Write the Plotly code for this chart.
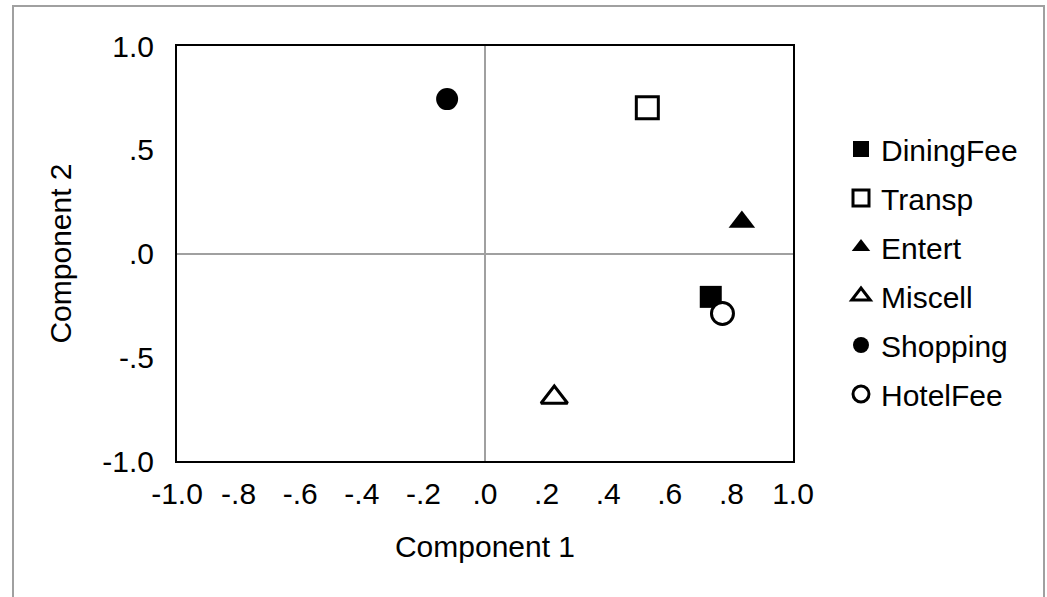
import plotly.graph_objects as go

variables = ["DiningFee", "Transp", "Entert", "Miscell", "Shopping", "HotelFee"]
component1 = [0.733, 0.527, 0.834, 0.225, -0.123, 0.771]
component2 = [-0.209, 0.702, 0.152, -0.694, 0.744, -0.289]
symbols = ["square", "square", "triangle-up", "triangle-up", "circle", "circle"]
fills = ["black", "white", "black", "white", "black", "white"]

x_tickvals = [-1.0, -0.8, -0.6, -0.4, -0.2, 0.0, 0.2, 0.4, 0.6, 0.8, 1.0]
x_ticktext = ["-1.0", "-.8", "-.6", "-.4", "-.2", ".0", ".2", ".4", ".6", ".8", "1.0"]
y_tickvals = [-1.0, -0.5, 0.0, 0.5, 1.0]
y_ticktext = ["-1.0", "-.5", ".0", ".5", "1.0"]

FONT = "Liberation Sans, Arial, sans-serif"
FS = 30

fig = go.Figure()
for i, name in enumerate(variables):
    is_tri = "triangle" in symbols[i]
    fig.add_trace(go.Scatter(
        x=[component1[i]], y=[component2[i]], mode="markers", name=name,
        legendgroup=name,
        marker=dict(symbol=symbols[i], size=23 if is_tri else 22,
                    color=fills[i], line=dict(color="black", width=3 if fills[i] == "white" else 0)),
    ))

W, H = 1047, 597
pl, pr, pt, pb = 177, 793, 46, 461
L, R, T, B = pl, W - pr, pt, H - pb
pw, ph = pr - pl, pb - pt

def px(xp):
    return (xp - pl) / pw

def py(yp):
    return (pb - yp) / ph

fig.update_layout(
    width=W, height=H,
    margin=dict(l=L, r=R, t=T, b=B),
    paper_bgcolor="white", plot_bgcolor="white",
    font=dict(family=FONT, size=FS, color="black"),
    showlegend=True,
    legend=dict(
        x=px(841), y=py(123), xanchor="left", yanchor="top",
        font=dict(family=FONT, size=FS, color="black"),
        traceorder="grouped", tracegroupgap=7, itemwidth=30,
        bgcolor="rgba(0,0,0,0)",
    ),
    xaxis=dict(
        range=[-1, 1], tickvals=x_tickvals, ticktext=x_ticktext,
        showgrid=False, zeroline=True, zerolinecolor="#a0a0a0", zerolinewidth=1.5,
        showline=True, linecolor="black", linewidth=2, mirror=True,
        ticks="", ticklabelstandoff=5,
        title=dict(text="Component 1", font=dict(size=FS), standoff=27),
        fixedrange=True,
    ),
    yaxis=dict(
        range=[-1, 1], tickvals=y_tickvals, ticktext=y_ticktext,
        showgrid=False, zeroline=True, zerolinecolor="#a0a0a0", zerolinewidth=1.5,
        showline=True, linecolor="black", linewidth=2, mirror=True,
        ticks="", ticklabelstandoff=15,
        title=dict(text="Component 2", font=dict(size=FS), standoff=22),
        fixedrange=True,
    ),
    shapes=[dict(
        type="rect", xref="paper", yref="paper",
        x0=px(13), x1=px(1044),
        y0=py(700), y1=py(6),
        line=dict(color="#a0a0a0", width=2), layer="below",
    )],
)

fig.write_html("out.html", config={"displayModeBar": False},
               post_script="document.body.style.margin='0';")
